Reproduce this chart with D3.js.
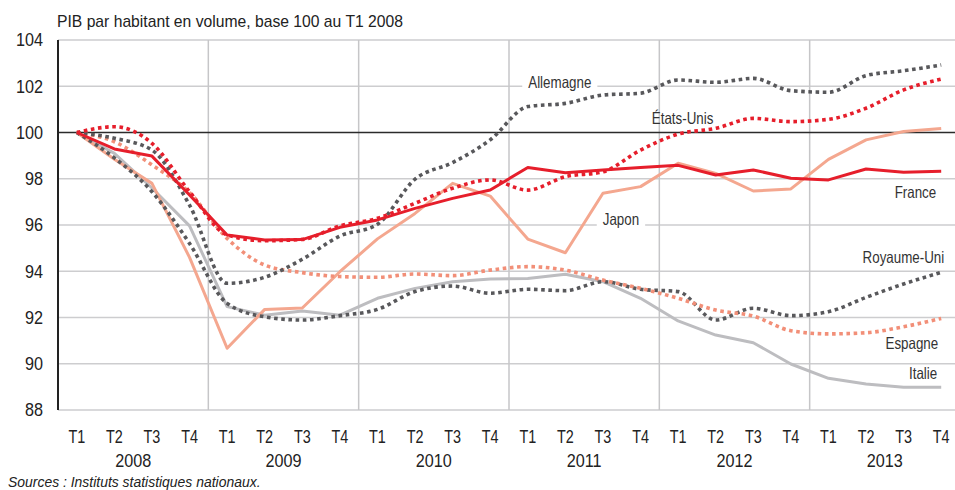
<!DOCTYPE html>
<html><head><meta charset="utf-8">
<script src="https://cdn.jsdelivr.net/npm/d3@7"></script>
<style>
html,body{margin:0;padding:0;background:#fff;}
svg{display:block;font-family:"Liberation Sans",Arial,sans-serif;}
</style></head><body>
<svg id="c" width="955" height="490"></svg>
<script>
const quarters = ["T1","T2","T3","T4"];
const years = ["2008","2009","2010","2011","2012","2013"];
const yTicks = [88,90,92,94,96,98,100,102,104];

const france    = [100,99.29,98.98,97.3,95.57,95.35,95.37,95.9,96.22,96.72,97.15,97.51,98.49,98.26,98.38,98.49,98.58,98.16,98.38,98.02,97.95,98.42,98.28,98.32];
const etatsUnis = [100,100.25,99.53,97.44,95.57,95.32,95.38,95.96,96.29,96.94,97.59,97.95,97.51,98.09,98.3,99.24,99.93,100.18,100.61,100.47,100.57,101.05,101.84,102.31];
const allemagne = [100,99.75,99.24,96.86,93.48,93.74,94.52,95.52,96.03,97.98,98.7,99.68,101.12,101.26,101.62,101.7,102.27,102.17,102.34,101.81,101.74,102.46,102.67,102.92];
const japon     = [100,98.84,97.8,94.6,90.67,92.35,92.41,93.98,95.4,96.5,97.8,97.25,95.39,94.8,97.37,97.66,98.67,98.23,97.47,97.56,98.84,99.68,100.04,100.17];
const espagne   = [100,99.6,98.6,97.4,95.42,94.27,93.94,93.77,93.74,93.88,93.81,94.05,94.2,94.05,93.62,93.26,92.83,92.32,92.06,91.43,91.29,91.34,91.6,91.96];
const italie    = [100,99.1,97.6,95.96,92.47,92.1,92.28,92.1,92.83,93.26,93.55,93.66,93.69,93.87,93.55,92.83,91.85,91.24,90.91,89.99,89.37,89.12,88.98,88.98];
const royaumeUni= [100,98.9,97.44,95.2,92.61,92.03,91.89,92.08,92.35,93.12,93.36,93.05,93.22,93.16,93.55,93.22,93.12,91.89,92.4,92.08,92.25,92.87,93.45,93.95];

const subtitle = "PIB par habitant en volume, base 100 au T1 2008";
const source = "Sources : Instituts statistiques nationaux.";

const RED="#e61e2b", SALMON="#f4a78f", SALMON_D="#f28f78", DARK="#58585b", LIGHT="#bdbdc0";

const series = [
  {name:"Italie", values:italie, color:LIGHT, dotted:false},
  {name:"Japon", values:japon, color:SALMON, dotted:false},
  {name:"Royaume-Uni", values:royaumeUni, color:DARK, dotted:true},
  {name:"Espagne", values:espagne, color:SALMON_D, dotted:true},
  {name:"Allemagne", values:allemagne, color:DARK, dotted:true},
  {name:"États-Unis", values:etatsUnis, color:RED, dotted:true},
  {name:"France", values:france, color:RED, dotted:false}
];

const periods = [];
years.forEach(yr=>quarters.forEach(q=>periods.push(yr+q)));

const svg = d3.select("#c");
const mLeft=58, mRight=960, mTop=40, mBottom=410;
const x = d3.scalePoint().domain(periods).range([mLeft,mRight]).padding(0.5);
const y = d3.scaleLinear().domain([88,104]).range([mBottom,mTop]);
const step = x.step();

// condensed real-text helper
function addText(g, tx, ty, str, o){
  return g.append("text")
    .attr("transform",`translate(${tx},${ty}) scale(${o.sx||1},1)`)
    .attr("text-anchor",o.anchor||"start")
    .attr("dy",o.dy||null)
    .attr("font-size",o.size)
    .attr("font-style",o.italic?"italic":null)
    .attr("fill",o.fill||"#222")
    .text(str);
}

// horizontal gridlines
svg.append("g").selectAll("line").data(yTicks.filter(v=>v!==100)).join("line")
  .attr("x1",mLeft).attr("x2",955).attr("y1",d=>y(d)).attr("y2",d=>y(d))
  .attr("stroke","#cdcdcf").attr("stroke-width",1.5);
// vertical year separators
svg.append("g").selectAll("line").data(years.slice(1)).join("line")
  .attr("x1",d=>x(d+"T1")-step/2).attr("x2",d=>x(d+"T1")-step/2)
  .attr("y1",mTop).attr("y2",mBottom)
  .attr("stroke","#c6c6c8").attr("stroke-width",1.5);
// base 100 line
svg.append("line").attr("x1",mLeft).attr("x2",955).attr("y1",y(100)).attr("y2",y(100))
  .attr("stroke","#2b2b2b").attr("stroke-width",1.6);
// left axis line
svg.append("line").attr("x1",mLeft).attr("x2",mLeft).attr("y1",mTop).attr("y2",mBottom)
  .attr("stroke","#222").attr("stroke-width",2);

// y tick labels
const gy = svg.append("g");
yTicks.forEach(v=>addText(gy, mLeft-15, y(v), d3.format("d")(v), {size:18, sx:0.9, anchor:"end", dy:"0.35em"}));

// x tick labels
const gx = svg.append("g");
periods.forEach(p=>addText(gx, x(p), 443, p.slice(4), {size:18, sx:0.8, anchor:"middle"}));
years.forEach(yr=>addText(gx, (x(yr+"T2")+x(yr+"T3"))/2, 467, yr, {size:18.5, sx:0.875, anchor:"middle"}));

// lines
const line = d3.line().x((d,i)=>x(periods[i])).y(d=>y(d));
svg.append("g").selectAll("path").data(series).join("path")
  .attr("d",s=>line.curve(s.dotted?d3.curveMonotoneX:d3.curveLinear)(s.values))
  .attr("fill","none").attr("stroke",s=>s.color)
  .attr("stroke-width",s=>s.dotted?3.6:3)
  .attr("stroke-dasharray",s=>s.dotted?"3.6,3.6":null)
  .attr("stroke-linejoin","round");

// series labels
const labels = [
  {name:"Allemagne", at:"2011T1", v:102.18, anchor:"middle", dx:32, bg:true},
  {name:"États-Unis", at:"2012T1", v:100.63, anchor:"middle", dx:4.5, bg:false},
  {name:"France", at:"2013T4", v:97.43, anchor:"end", dx:-5, bg:false},
  {name:"Japon", at:"2011T3", v:96.26, anchor:"middle", dx:18, bg:true},
  {name:"Royaume-Uni", at:"2013T4", v:94.62, anchor:"end", dx:3, bg:false},
  {name:"Espagne", at:"2013T4", v:90.9, anchor:"end", dx:-3, bg:false},
  {name:"Italie", at:"2013T4", v:89.6, anchor:"end", dx:-4, bg:false}
];
const gl = svg.append("g");
labels.forEach(l=>{
  const g = gl.append("g");
  const tx = x(l.at)+l.dx, ty = y(l.v);
  const t = addText(g, tx, ty, l.name, {size:16.3, sx:0.82, anchor:l.anchor, dy:"0.35em", fill:"#333"});
  if(l.bg){
    const b = t.node().getBBox();
    const w = b.width*0.82;
    const x0 = l.anchor==="middle" ? tx-w/2 : (l.anchor==="end" ? tx-w : tx);
    g.insert("rect","text").attr("x",x0-6).attr("y",ty+b.y+1).attr("width",w+12).attr("height",b.height-2).attr("fill","#fff");
  }
});

// subtitle
addText(svg, 57, 27, subtitle, {size:15.7});
// source
addText(svg, 8, 487, source, {size:15, sx:0.93, italic:true});
</script>
</body></html>
